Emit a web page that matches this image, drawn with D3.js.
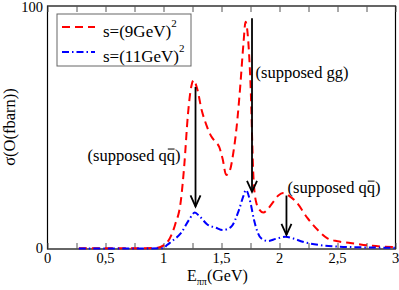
<!DOCTYPE html>
<html><head><meta charset="utf-8">
<script src="https://cdn.jsdelivr.net/npm/d3@7"></script>
<style>body{margin:0;background:#fff}svg{display:block}</style>
</head><body>
<script>
// Data
const energy9 = [0.27,0.5,0.8,0.95,1.0,1.05,1.1,1.15,1.18,1.21,1.24,1.26,1.29,1.33,1.37,1.41,1.45,1.48,1.51,1.54,1.57,1.6,1.63,1.66,1.69,1.707,1.73,1.75,1.776,1.8,1.83,1.86,1.9,1.94,1.99,2.03,2.08,2.15,2.24,2.33,2.41,2.5,2.61,2.8,3.0];
const sigma9  = [0.3,0.3,0.3,0.5,1.5,4,10,20,35,55,67,69.5,66,57,51,46.5,44,42,37,30.5,32,39,50,66,85,93.5,86,68,29,19,16,15,16.5,19,22,23,22,19,12.8,7.8,4.5,3.2,2.5,1.3,0.8];
const energy11 = [0.27,0.8,1.0,1.03,1.08,1.15,1.22,1.27,1.31,1.38,1.45,1.51,1.58,1.65,1.69,1.71,1.75,1.78,1.84,1.9,1.97,2.05,2.12,2.2,2.35,2.5,2.7,3.0];
const sigma11  = [0.2,0.2,0.3,1.6,3.5,6.5,12,15,13.5,10,8.8,7.8,9,16,22,24.3,19,12,4.5,3.3,4.2,5,4.3,3,1.6,1,0.7,0.5];
const xTicks = [0,0.5,1,1.5,2,2.5,3];
const xTickLabels = ["0","0,5","1","1,5","2","2,5","3"];
const yTicks = [0,100];
const yTickLabels = ["0","100"];
const seriesNames = ["s=(9GeV)","s=(11GeV)"];
// arrows: [x, yStart, yEnd]
const arrowX = [1.276,1.763,2.06];
const arrowFrom = [66.7,95,22];
const arrowTo = [17.5,23.5,5.8];
const noteText = ["(supposed qq)","(supposed gg)","(supposed qq)"];
const noteX = [0.345,1.793,2.069];
const noteY = [36.2,70.4,23];
const noteBar = [true,false,true];

const FONT='"Liberation Serif","Times New Roman","DejaVu Serif",serif';
const W=399,H=290;
const svg=d3.select("body").append("svg").attr("width",W).attr("height",H)
  .attr("font-family",FONT).style("font-family",FONT);
const x=d3.scaleLinear().domain([0,3]).range([47.5,395.5]);
const y=d3.scaleLinear().domain([0,100]).range([249,6]);

// frame
svg.append("rect").attr("x",x(0)).attr("y",y(100)).attr("width",x(3)-x(0)).attr("height",y(0)-y(100))
  .attr("fill","none").attr("stroke","#000").attr("stroke-width",1.2);

const minor=d3.range(0,3.001,0.25);
svg.append("g").attr("transform",`translate(0,${y(0)})`)
  .call(d3.axisBottom(x).tickValues(minor).tickSize(-6).tickFormat(""))
  .call(g=>{g.select(".domain").remove();g.selectAll("line").attr("stroke","#555");});
svg.append("g").attr("transform",`translate(0,${y(100)})`)
  .call(d3.axisTop(x).tickValues(minor).tickSize(-6).tickFormat(""))
  .call(g=>{g.select(".domain").remove();g.selectAll("line").attr("stroke","#555");});

function T(sel){return sel.append("text").attr("font-family",FONT).style("font-family",FONT).attr("fill","#000");}

// x labels
xTicks.forEach((d,i)=>{
  T(svg).attr("x",x(d)).attr("y",263).attr("text-anchor","middle").attr("font-size",14.5).text(xTickLabels[i]);
});
// y labels
yTicks.forEach((d,i)=>{
  T(svg).attr("x",43).attr("y",y(d)+(d===0?4:6)).attr("text-anchor","end").attr("font-size",14.5).text(yTickLabels[i]);
});

// axis titles
const xt=T(svg).attr("x",187).attr("y",281).attr("font-size",16);
xt.append("tspan").text("E");
xt.append("tspan").attr("font-size",10).attr("dy",4).text("ππ");
xt.append("tspan").attr("dy",-4).text("(GeV)");
T(svg).attr("transform","translate(15,127) rotate(-90)").attr("text-anchor","middle")
  .attr("font-size",16.5).text("σ(O(fbarn))");

// curves
const line=d3.line().x(d=>x(d[0])).y(d=>y(d[1])).curve(d3.curveMonotoneX);
svg.append("path").datum(energy9.map((e,i)=>[e,sigma9[i]])).attr("d",line)
  .attr("fill","none").attr("stroke","#ff0000").attr("stroke-width",2).attr("stroke-dasharray","8,5");
svg.append("path").datum(energy11.map((e,i)=>[e,sigma11[i]])).attr("d",line)
  .attr("fill","none").attr("stroke","#0000ff").attr("stroke-width",2).attr("stroke-dasharray","7,3,1.5,3");

// arrows
arrowX.forEach((ax,i)=>{
  const px=x(ax),y0=y(arrowFrom[i]),y1=y(arrowTo[i]);
  svg.append("line").attr("x1",px).attr("x2",px).attr("y1",y0).attr("y2",y1).attr("stroke","#000").attr("stroke-width",1.8);
  svg.append("path").attr("d",`M${px-5},${y1-11}L${px},${y1}L${px+5},${y1-11}`).attr("fill","none").attr("stroke","#000").attr("stroke-width",1.8);
});

// notes
noteText.forEach((t,i)=>{
  const tx=T(svg).attr("x",x(noteX[i])).attr("y",y(noteY[i])).attr("font-size",16.5).text(t);
  if(noteBar[i]){
    const b=tx.node().getExtentOfChar(t.length-2);
    svg.append("line").attr("x1",b.x+1).attr("x2",b.x+b.width-0.5)
      .attr("y1",y(noteY[i])-12).attr("y2",y(noteY[i])-12).attr("stroke","#000").attr("stroke-width",1);
  }
});

// legend
const lg=svg.append("g");
lg.append("rect").attr("x",57).attr("y",14).attr("width",134).attr("height",52).attr("fill","#fff").attr("stroke","#666").attr("stroke-width",1);
const colors=["#ff0000","#0000ff"],dashes=["8,5","7,3,1.5,3"];
seriesNames.forEach((nm,i)=>{
  const ly=27+25*i;
  lg.append("line").attr("x1",62).attr("x2",95).attr("y1",ly).attr("y2",ly).attr("stroke",colors[i]).attr("stroke-width",2).attr("stroke-dasharray",dashes[i]);
  const t=T(lg).attr("x",103).attr("y",ly+10).attr("font-size",17).text(nm);
  t.append("tspan").attr("font-size",11).attr("dy",-10).text("2");
});
</script>
</body></html>
